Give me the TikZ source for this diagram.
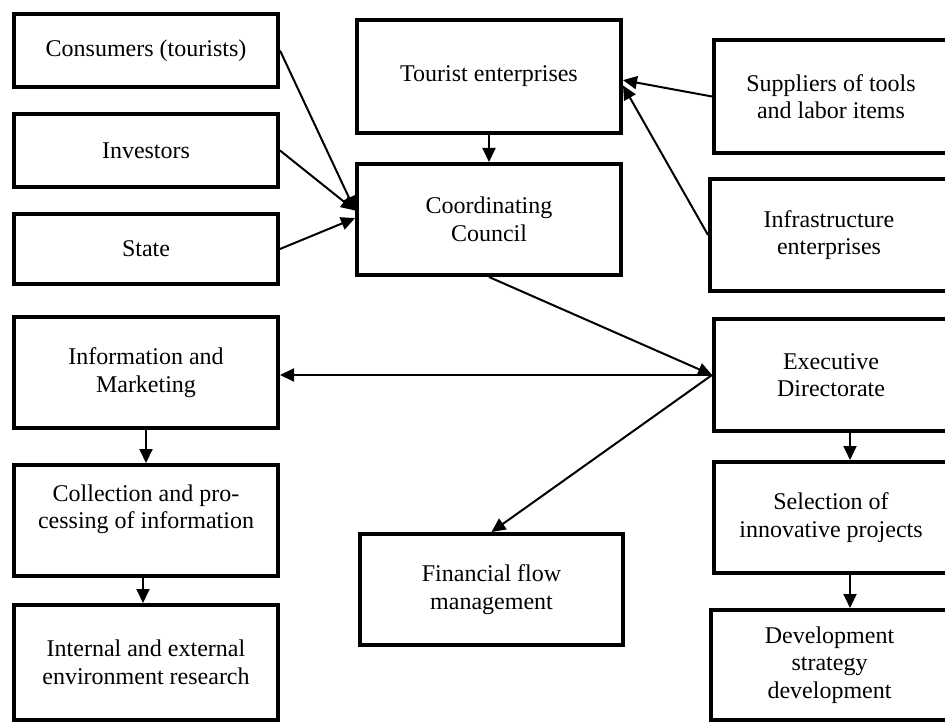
\documentclass[tikz,border=0pt]{standalone}
\usepackage{fontspec}
\setmainfont{Liberation Serif}
\usetikzlibrary{arrows.meta}

\tikzset{
  box/.style = {draw, line width = 2pt, align = center, inner sep = 0pt,
                font = \fontsize{12}{13.8}\selectfont},
  leftbox/.style = {box, minimum width = 132pt},
  midbox/.style = {box, minimum width = 132pt},
  rightbox/.style = {box, minimum width = 117pt},
  link/.style = {line width = 1pt, -{Triangle[length = 7pt, width = 6.5pt]}}
}

\begin{document}
\begin{tikzpicture}[x = 0.5pt, y = -0.5pt]
    \clip (0, 0) rectangle (945, 721);
    \fill[white] (0, 0) rectangle (945, 721);

    % left column
    \node[leftbox, minimum height = 36.5pt] (cons)   at (146, 50.5)  {Consumers (tourists)};
    \node[leftbox, minimum height = 36.5pt] (inv)    at (146, 150.5) {Investors};
    \node[leftbox, minimum height = 35pt]   (state)  at (146, 249)   {State};
    \node[leftbox, minimum height = 55.5pt] (info)   at (146, 372.5) {Information and\\Marketing};
    \node[leftbox, minimum height = 55.5pt] (coll)   at (146, 520.5) {Collection and pro-\\cessing of information\\ \mbox{}};
    \node[leftbox, minimum height = 57.5pt] (intern) at (146, 662.5) {Internal and external\\environment research};

    % middle column
    \node[midbox, minimum height = 56.5pt] (tour) at (489, 76.5)  {Tourist enterprises};
    \node[midbox, minimum height = 55.5pt] (coun) at (489, 219.5) {Coordinating\\Council};
    \node[midbox, minimum width = 131.5pt, minimum height = 55.5pt] (fin) at (491.5, 589.5) {Financial flow\\management};

    % right column
    \node[rightbox, minimum height = 56.5pt] (supp)  at (831, 96.5)  {Suppliers of tools\\and labor items};
    \node[rightbox, minimum width = 119pt, minimum height = 56pt] (infra) at (829, 235) {Infrastructure\\enterprises};
    \node[rightbox, minimum height = 56pt]   (exec)  at (831, 375)   {Executive\\Directorate};
    \node[rightbox, minimum height = 55.5pt] (sel)   at (831, 517.5) {Selection of\\innovative projects};
    \node[rightbox, minimum width = 118.5pt, minimum height = 55pt] (dev) at (829.5, 665) {Development\\strategy\\development};

    \draw[link] (cons.east)  -- ([yshift = 4.5pt]coun.west);
    \draw[link] (inv.east)   -- ([yshift = 4.5pt]coun.west);
    \draw[link] (state.east) -- ([yshift = 0.7pt]coun.west);
    \draw[link] (tour.south) -- (coun.north);
    \draw[link] (supp.west)  -- ([yshift = -1.8pt]tour.east);
    \draw[link] (infra.west) -- ([yshift = -4.5pt]tour.east);

    \draw[link] (coun.south) -- (exec.west);
    \draw[link] (exec.west)  -- (exec.west -| info.east);
    \draw[link] (exec.west)  -- (fin.north);

    \draw[link] (info.south) -- (coll.north);
    \draw[link] ([xshift = -1.5pt]coll.south) -- ([xshift = -1.5pt]intern.north);
    \draw[link] ([xshift = 9.5pt]exec.south) -- ([xshift = 9.5pt]exec.south |- sel.north);
    \draw[link] ([xshift = 9.5pt]sel.south)  -- ([xshift = 9.5pt]sel.south |- dev.north);
  \end{tikzpicture}
\end{document}
